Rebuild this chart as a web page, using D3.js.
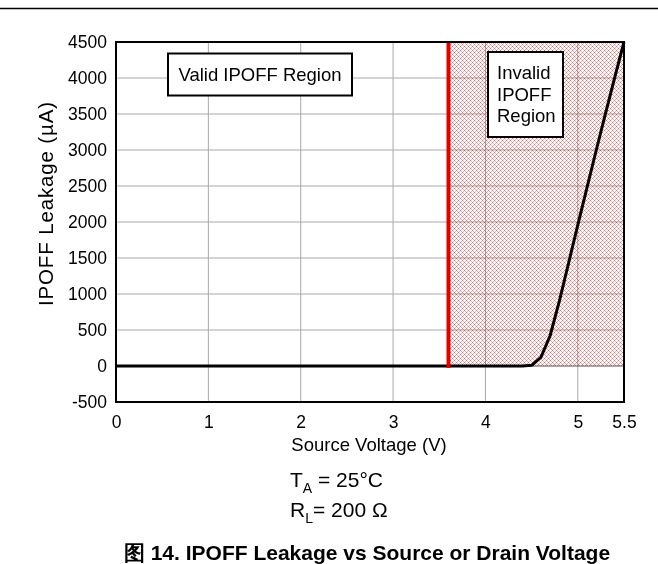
<!DOCTYPE html>
<html>
<head>
<meta charset="utf-8">
<script src="https://cdn.jsdelivr.net/npm/d3@7"></script>
<style>
  body { margin: 0; background: #fff; }
  svg { display: block; font-family: "Liberation Sans", Arial, sans-serif; }
</style>
</head>
<body>
<div id="chart"></div>
<script>
// curve
const voltage = [0, 4.4, 4.5, 4.6, 4.7, 4.8, 4.9, 5.0, 5.1, 5.2, 5.3, 5.4, 5.5];
const leakage = [0, 0, 10, 120, 420, 900, 1430, 1960, 2480, 3000, 3510, 4010, 4500];
const xTicks = [0, 1, 2, 3, 4, 5, 5.5];
const yTicks = [-500, 0, 500, 1000, 1500, 2000, 2500, 3000, 3500, 4000, 4500];
const limitVoltage = 3.6;

const width = 658, height = 564;
const margin = { top: 42, right: 34, bottom: 162, left: 116 };
const w = width - margin.left - margin.right;
const h = height - margin.top - margin.bottom;

const svg = d3.select("#chart").append("svg")
  .attr("width", width)
  .attr("height", height);

// rule at the very top of the page
svg.append("line")
  .attr("x1", 0).attr("x2", width)
  .attr("y1", 8.5).attr("y2", 8.5)
  .attr("stroke", "#000").attr("stroke-width", 1.5);

const defs = svg.append("defs");
const pat = defs.append("pattern")
  .attr("id", "hatch")
  .attr("patternUnits", "userSpaceOnUse")
  .attr("width", 4).attr("height", 4);
pat.append("rect").attr("width", 4).attr("height", 4).attr("fill", "#fff");
[[1, 1], [3, 1], [1, 3], [3, 3]].forEach(p => {
  pat.append("rect").attr("x", p[0]).attr("y", p[1]).attr("width", 1).attr("height", 1).attr("fill", "#f4b0b0");
});
[[0, 0], [2, 2]].forEach(p => {
  pat.append("rect").attr("x", p[0]).attr("y", p[1]).attr("width", 1).attr("height", 1).attr("fill", "#ec6a6a");
});

const g = svg.append("g")
  .attr("transform", "translate(" + margin.left + "," + margin.top + ")");

const x = d3.scaleLinear().domain([0, 5.5]).range([0, w]);
const y = d3.scaleLinear().domain([-500, 4500]).range([h, 0]);

// grid
g.append("g")
  .selectAll("line")
  .data(xTicks.filter(d => d > 0 && d < 5.5))
  .enter().append("line")
  .attr("x1", d => x(d)).attr("x2", d => x(d))
  .attr("y1", 0).attr("y2", h)
  .attr("stroke", "#a8a8a8").attr("stroke-width", 1);

g.append("g")
  .selectAll("line")
  .data(yTicks.filter(d => d > -500 && d < 4500))
  .enter().append("line")
  .attr("x1", 0).attr("x2", w)
  .attr("y1", d => y(d)).attr("y2", d => y(d))
  .attr("stroke", d => d === 0 ? "#555" : "#a8a8a8").attr("stroke-width", 1);

// invalid region
g.append("rect")
  .attr("x", x(limitVoltage))
  .attr("y", y(4500))
  .attr("width", x(5.5) - x(limitVoltage))
  .attr("height", y(0) - y(4500))
  .attr("fill", "url(#hatch)")
  .style("mix-blend-mode", "multiply");

// curve
const data = voltage.map((v, i) => ({ v: v, a: leakage[i] }));
g.append("path")
  .datum(data)
  .attr("fill", "none")
  .attr("stroke", "#000")
  .attr("stroke-width", 3)
  .attr("stroke-linejoin", "round")
  .attr("d", d3.line().x(d => x(d.v)).y(d => y(d.a)));

// limit line
g.append("line")
  .attr("x1", x(limitVoltage)).attr("x2", x(limitVoltage))
  .attr("y1", 0).attr("y2", y(0) + 2)
  .attr("stroke", "#e00000").attr("stroke-width", 4);

// frame
g.append("rect")
  .attr("width", w).attr("height", h)
  .attr("fill", "none")
  .attr("stroke", "#000").attr("stroke-width", 2);

// axes (labels only)
const xAxis = g.append("g")
  .attr("transform", "translate(0," + h + ")")
  .call(d3.axisBottom(x).tickValues(xTicks).tickSize(0).tickPadding(14).tickFormat(d => String(d)));
xAxis.select(".domain").remove();
xAxis.selectAll("text").style("font-size", "17.5px").attr("fill", "#000");

const yAxis = g.append("g")
  .call(d3.axisLeft(y).tickValues(yTicks).tickSize(0).tickPadding(9).tickFormat(d => String(d)));
yAxis.select(".domain").remove();
yAxis.selectAll("text").style("font-size", "17.5px").attr("fill", "#000");

// annotation boxes
g.append("rect")
  .attr("x", 52).attr("y", 11.5).attr("width", 184).attr("height", 42)
  .attr("fill", "#fff").attr("stroke", "#000").attr("stroke-width", 2);
g.append("text")
  .attr("x", 144).attr("y", 39)
  .attr("text-anchor", "middle")
  .style("font-size", "18.5px")
  .text("Valid IPOFF Region");

g.append("rect")
  .attr("x", 372).attr("y", 10).attr("width", 75).attr("height", 85)
  .attr("fill", "#fff").attr("stroke", "#000").attr("stroke-width", 2);
["Invalid", "IPOFF", "Region"].forEach((t, i) => {
  g.append("text")
    .attr("x", 381).attr("y", 37 + i * 21.7)
    .style("font-size", "18.5px")
    .text(t);
});

// axis titles
svg.append("text")
  .attr("transform", "translate(53," + 204 + ") rotate(-90)")
  .attr("text-anchor", "middle")
  .style("font-size", "20.5px")
  .attr("textLength", 204)
  .attr("lengthAdjust", "spacing")
  .text("IPOFF Leakage (\u00b5A)");

svg.append("text")
  .attr("x", 369).attr("y", 451)
  .attr("text-anchor", "middle")
  .style("font-size", "18.5px")
  .text("Source Voltage (V)");

const ta = svg.append("text")
  .attr("x", 290).attr("y", 487)
  .style("font-size", "21px");
ta.append("tspan").text("T");
ta.append("tspan").attr("dy", 6).style("font-size", "14px").text("A");
ta.append("tspan").attr("dy", -6).text(" = 25\u00b0C");

const rl = svg.append("text")
  .attr("x", 290).attr("y", 517)
  .style("font-size", "21px");
rl.append("tspan").text("R");
rl.append("tspan").attr("dy", 6).style("font-size", "14px").text("L");
rl.append("tspan").attr("dy", -6).text("= 200 \u03a9");

svg.append("text")
  .attr("x", 367).attr("y", 560)
  .attr("text-anchor", "middle")
  .style("font-size", "21px")
  .style("font-weight", "bold")
  .text("\u56fe 14. IPOFF Leakage vs Source or Drain Voltage");
</script>
</body>
</html>
